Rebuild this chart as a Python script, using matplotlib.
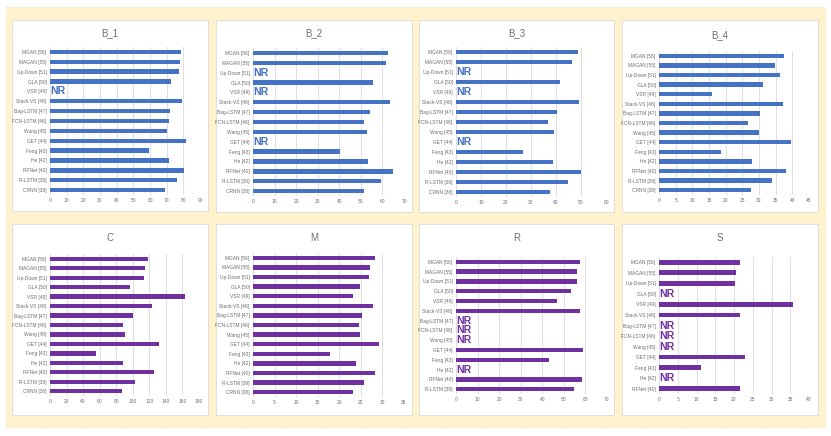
import numpy as np
import matplotlib.pyplot as plt
from matplotlib.patches import Rectangle

# Methods (top to bottom)
methods = ["MGAN [56]", "MAGAN [55]", "Up-Down [51]", "GLA [50]", "VSR [49]",
           "Stack-VS [48]", "Bag-LSTM [47]", "FCN-LSTM [46]", "Wang [45]",
           "GET [44]", "Feng [43]", "He [42]", "RFNet [40]", "R-LSTM [39]",
           "CRNN [38]"]

# None = NR (not reported)
B_1 = [78.8, 78.0, 77.2, 72.6, None, 79.4, 72.2, 71.2, 70.2, 81.6, 59.1, 71.2, 80.4, 76.2, 69.2]
B_2 = [62.7, 61.5, None, 55.6, None, 63.3, 54.3, 51.4, 52.9, None, 40.2, 53.4, 64.7, 59.4, 51.4]
B_3 = [48.9, 46.4, None, 41.7, None, 49.1, 40.4, 36.8, 39.1, None, 26.9, 38.8, 50.0, 44.9, 37.6]
B_4 = [37.6, 34.9, 36.3, 31.3, 16.0, 37.3, 30.2, 26.6, 30.0, 39.6, 18.7, 27.9, 38.0, 33.8, 27.6]
C = [118.9, 114.9, 113.7, 96.4, 162.7, 122.9, 100.0, 88.4, 90.4, 131.8, 55.0, 88.4, 125.8, 102.9, 86.8]
M = [28.2, 27.1, 26.9, 24.8, 23.1, 27.9, 25.2, 24.6, 24.9, 29.3, 17.8, 23.8, 28.3, 25.7, 23.1]
R = [57.7, 56.3, 56.3, 53.2, 47.0, 57.6, None, None, None, 58.8, 43.0, None, 58.4, 54.9]
S = [21.6, 20.4, 20.3, None, 35.8, 21.6, None, None, None, 22.8, 11.1, None, 21.7]

BLUE = "#4472C4"
PURPLE = "#7030A0"
GRAY = "#6E6E6E"
FONT = ["Liberation Sans Narrow", "Liberation Sans", "DejaVu Sans"]

W, H = 831, 436

# panel box (x0, y0, x1, y1), axis (x at 0, x at max, y top, y bottom), title y, max, step
panels = [
    ("B_1", B_1, BLUE, (12, 20, 208, 211), (50, 200, 47, 195), 33, 90, 10),
    ("B_2", B_2, BLUE, (216, 20, 412, 212), (253, 404, 48, 196), 33, 70, 10),
    ("B_3", B_3, BLUE, (419, 20, 614, 212), (456, 606, 47, 197), 33, 60, 10),
    ("B_4", B_4, BLUE, (622, 20, 818, 212), (659, 809, 51, 195), 35, 45, 5),
    ("C", C, PURPLE, (12, 224, 208, 415), (50, 199, 254, 396), 238, 180, 20),
    ("M", M, PURPLE, (216, 224, 412, 415), (253, 404, 253, 397), 238, 35, 5),
    ("R", R, PURPLE, (419, 224, 614, 415), (456, 607, 257, 394), 238, 70, 10),
    ("S", S, PURPLE, (622, 224, 818, 415), (659, 809, 257, 394), 238, 40, 5),
]

fig = plt.figure(figsize=(W / 100, H / 100), dpi=100)
fig.patch.set_facecolor("white")

# beige frame
fig.add_artist(Rectangle((6 / W, 1 - 427 / H), 819 / W, 420 / H, transform=fig.transFigure,
                         facecolor="#FFF2CC", edgecolor="#F2E3B3", linewidth=0.6,
                         linestyle=(0, (2, 2)), zorder=0))

for name, vals, color, box, ax_px, ty, vmax, vstep in panels:
    bx0, by0, bx1, by1 = box
    fig.add_artist(Rectangle((bx0 / W, 1 - by1 / H), (bx1 - bx0) / W, (by1 - by0) / H,
                             transform=fig.transFigure, facecolor="white",
                             edgecolor="#D9D9D9", linewidth=0.6, zorder=1))
    fig.text((bx0 + bx1) / 2 / W, 1 - ty / H, name, ha="center", va="center",
             fontsize=7, color=GRAY, family=FONT, zorder=3)

    x0, x1, yt, yb = ax_px
    ax = fig.add_axes([x0 / W, 1 - yb / H, (x1 - x0) / W, (yb - yt) / H])
    ax.set_zorder(2)
    ax.patch.set_alpha(0)

    labels = methods[:len(vals)]
    ypos = np.arange(len(vals))
    widths = [v if v is not None else 0 for v in vals]
    ax.barh(ypos, widths, height=0.45, color=color, zorder=3)
    for yi, v in zip(ypos, vals):
        if v is None:
            ax.text(vmax * 0.002, yi, "NR", ha="left", va="center", fontsize=7.5,
                    fontweight="bold", color=color, family=FONT, zorder=4)

    ax.set_xlim(0, vmax)
    ax.set_ylim(len(vals) - 0.5, -0.5)
    ax.set_xticks(np.arange(0, vmax + 0.1, vstep))
    ax.set_yticks(ypos)
    ax.set_yticklabels(labels)
    ax.grid(axis="x", color="#D9D9D9", linewidth=0.6, zorder=0)
    ax.set_axisbelow(True)
    for sp in ax.spines.values():
        sp.set_visible(False)
    ax.tick_params(length=0, labelsize=3.5, colors=GRAY, pad=2.5)
    for lab in ax.get_xticklabels() + ax.get_yticklabels():
        lab.set_family(FONT)

fig.savefig("out.png", dpi=100)
